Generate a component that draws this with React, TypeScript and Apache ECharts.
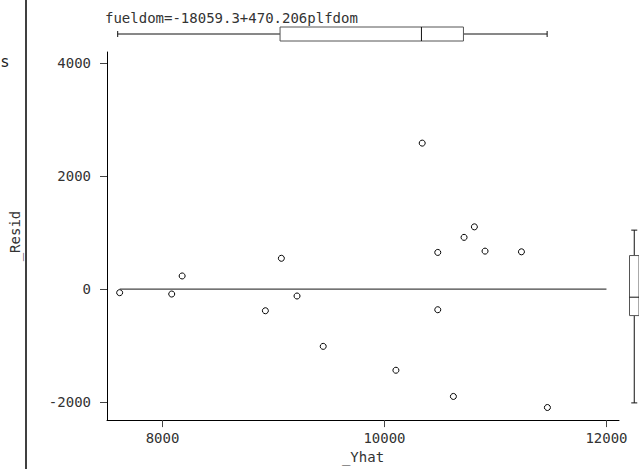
import React, { useEffect, useRef } from "react";
import * as echarts from "echarts";

// Fitted values (_Yhat) and residuals (_Resid)
const yhat = [7614, 8083, 8177, 8927, 9071, 9212, 9448, 10340, 10103, 10480, 10480, 10717, 10810, 10906, 11234, 10621, 11468];
const resid = [-63, -87, 233, -383, 546, -122, -1014, 2586, -1437, 650, -365, 917, 1103, 673, 661, -1901, -2097];

const xTicks = [8000, 10000, 12000];
const yTicks = [-2000, 0, 2000, 4000];
const fitLineX = [7614, 12000];
const fitLineY = [0, 0];

const titleText = "fueldom=-18059.3+470.206plfdom";
const xName = "_Yhat";
const yName = "_Resid";

const X_MIN = 7500;
const X_MAX = 12113;
const Y_MIN = -2320;
const Y_MAX = 4200;

// Stata-style box statistics: [lower adjacent, p25, p50, p75, upper adjacent]
function boxStats(vals: number[]): number[] {
  const s = [...vals].sort((a, b) => a - b);
  const n = s.length;
  const pct = (p: number) => {
    const np = (n * p) / 100;
    const i = Math.floor(np);
    if (np === i) return (s[i - 1] + s[i]) / 2;
    return s[i];
  };
  const q1 = pct(25), med = pct(50), q3 = pct(75);
  const iqr = q3 - q1;
  const lo = s.find((v) => v >= q1 - 1.5 * iqr) as number;
  const hi = [...s].reverse().find((v) => v <= q3 + 1.5 * iqr) as number;
  return [lo, q1, med, q3, hi];
}

const FONT = "'DejaVu Sans Mono', monospace";
const TXT = "#333";
const fmt = (v: number) => String(v);

export default function App() {
  const ref = useRef<HTMLDivElement>(null);
  useEffect(() => {
    document.body.style.margin = "0";
    const chart = echarts.init(ref.current!, null, { renderer: "svg" });
    const xBox = boxStats(yhat);
    const yBox = boxStats(resid);

    const ln = (x1: number, y1: number, x2: number, y2: number, c: string) => ({
      type: "line",
      shape: { x1, y1, x2, y2 },
      style: { stroke: c, lineWidth: 1 },
    });

    const hBox = (params: any, api: any) => {
      const cs = params.coordSys;
      const cy = cs.y + cs.height / 2;
      const h = cs.height / 2;
      const p = [0, 1, 2, 3, 4].map((i) => api.coord([api.value(i), 0.5])[0]);
      return {
        type: "group",
        children: [
          ln(p[0], cy, p[1], cy, "#111"),
          ln(p[0], cy - 3, p[0], cy + 3, "#111"),
          ln(p[3], cy, p[4], cy, "#111"),
          ln(p[4], cy - 3, p[4], cy + 3, "#111"),
          {
            type: "rect",
            shape: { x: p[1], y: cy - h, width: p[3] - p[1], height: 2 * h },
            style: { fill: "#fff", stroke: "#555", lineWidth: 1 },
          },
          ln(p[2], cy - h, p[2], cy + h, "#111"),
        ],
      };
    };

    const vBox = (params: any, api: any) => {
      const cs = params.coordSys;
      const cx = cs.x + cs.width / 2;
      const w = cs.width / 2;
      const p = [0, 1, 2, 3, 4].map((i) => api.coord([0.5, api.value(i)])[1]);
      return {
        type: "group",
        children: [
          ln(cx, p[0], cx, p[1], "#111"),
          ln(cx - 3, p[0], cx + 3, p[0], "#111"),
          ln(cx, p[3], cx, p[4], "#111"),
          ln(cx - 3, p[4], cx + 3, p[4], "#111"),
          {
            type: "rect",
            shape: { x: cx - w, y: p[3], width: 2 * w, height: p[1] - p[3] },
            style: { fill: "#fff", stroke: "#555", lineWidth: 1 },
          },
          ln(cx - w, p[2], cx + w, p[2], "#111"),
        ],
      };
    };

    chart.setOption({
      animation: false,
      backgroundColor: "#fff",
      title: {
        text: titleText,
        left: 105,
        top: 11,
        padding: 0,
        textStyle: { fontFamily: FONT, fontSize: 14, fontWeight: "normal", color: TXT },
      },
      grid: [
        { left: 105, top: 52, width: 514, height: 375 },
        { left: 105, top: 27, width: 514, height: 14 },
        { left: 629.5, top: 52, width: 12, height: 375 },
      ],
      xAxis: [
        {
          gridIndex: 0,
          type: "value",
          min: X_MIN,
          max: X_MAX,
          splitLine: { show: false },
          axisLine: { show: true, onZero: false, lineStyle: { color: "#000", width: 1 } },
          axisTick: { show: true, length: 7, customValues: xTicks, lineStyle: { color: "#444" } },
          axisLabel: { customValues: xTicks, formatter: fmt, margin: 11, fontFamily: FONT, fontSize: 14, color: TXT },
          name: xName,
          nameLocation: "middle",
          nameGap: 27,
          nameTextStyle: { fontFamily: FONT, fontSize: 14, color: TXT },
        },
        { gridIndex: 1, type: "value", min: X_MIN, max: X_MAX, show: false },
        { gridIndex: 2, type: "value", min: 0, max: 1, show: false },
      ],
      yAxis: [
        {
          gridIndex: 0,
          type: "value",
          min: Y_MIN,
          max: Y_MAX,
          splitLine: { show: false },
          axisLine: { show: true, onZero: false, lineStyle: { color: "#000", width: 1 } },
          axisTick: { show: true, length: 7, customValues: yTicks, lineStyle: { color: "#444" } },
          axisLabel: { customValues: yTicks, formatter: fmt, margin: 16, fontFamily: FONT, fontSize: 14, color: TXT },
          name: yName,
          nameLocation: "middle",
          nameGap: 85,
          nameRotate: 90,
          nameTextStyle: { fontFamily: FONT, fontSize: 14, color: TXT },
        },
        { gridIndex: 1, type: "value", min: 0, max: 1, show: false },
        { gridIndex: 2, type: "value", min: Y_MIN, max: Y_MAX, show: false },
      ],
      series: [
        {
          type: "line",
          xAxisIndex: 0,
          yAxisIndex: 0,
          data: fitLineX.map((x, i) => [x, fitLineY[i]]),
          symbol: "none",
          lineStyle: { color: "#444", width: 1.3 },
          silent: true,
        },
        {
          type: "scatter",
          xAxisIndex: 0,
          yAxisIndex: 0,
          data: yhat.map((x, i) => [x, resid[i]]),
          symbol: "circle",
          symbolSize: 6,
          itemStyle: { color: "#fff", borderColor: "#000", borderWidth: 1, opacity: 1 },
        },
        {
          type: "custom",
          xAxisIndex: 1,
          yAxisIndex: 1,
          data: [xBox],
          encode: { x: [0, 1, 2, 3, 4] },
          renderItem: hBox,
          clip: false,
        },
        {
          type: "custom",
          xAxisIndex: 2,
          yAxisIndex: 2,
          data: [yBox],
          encode: { y: [0, 1, 2, 3, 4] },
          renderItem: vBox,
          clip: false,
        },
      ],
      graphic: [
        {
          type: "line",
          shape: { x1: 26, y1: 0, x2: 26, y2: 469 },
          style: { stroke: "#000", lineWidth: 1.5 },
        },
        {
          type: "text",
          left: 1,
          top: 54,
          style: { text: "s", font: "15px 'DejaVu Sans', sans-serif", fill: "#222" },
        },
      ],
    });
    return () => chart.dispose();
  }, []);
  return <div ref={ref} style={{ width: 639, height: 469 }} />;
}
